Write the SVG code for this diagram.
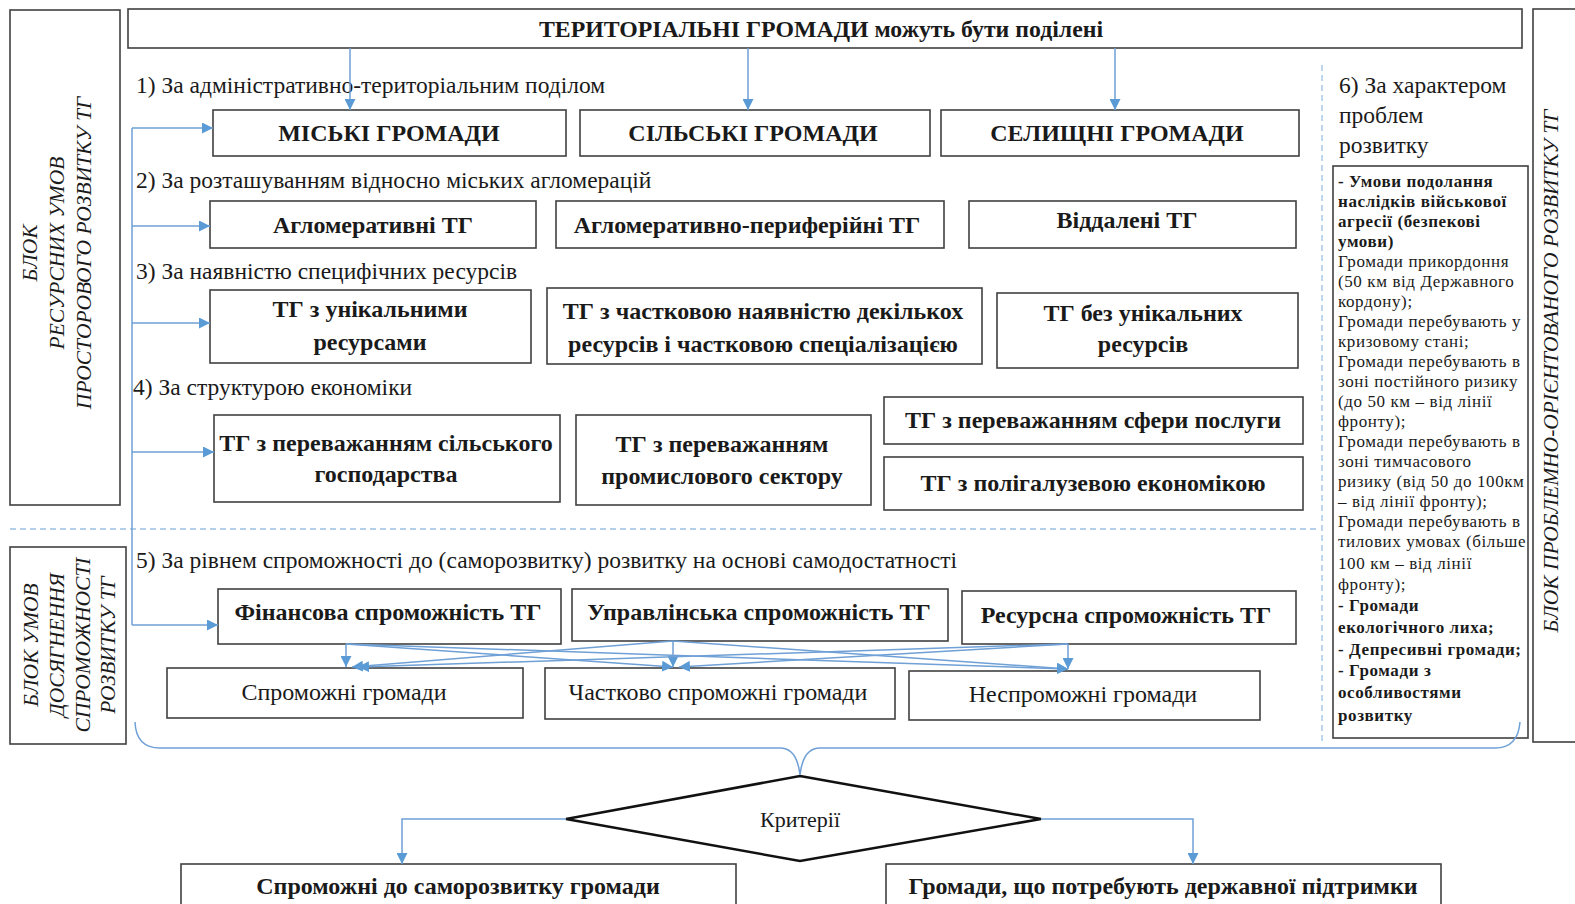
<svg xmlns="http://www.w3.org/2000/svg" width="1575" height="904" viewBox="0 0 1575 904">
<defs>
<style>
.box{fill:#fff;stroke:#404040;stroke-width:1.6}
.t{font-family:"Liberation Serif","Times New Roman",serif;fill:#1a1a1a}
.b{font-weight:bold}
.c{text-anchor:middle}
.lab{font-size:23.5px}
.nb{font-size:24px;font-weight:bold;text-anchor:middle}
.nr{font-size:24px;text-anchor:middle}
.side{font-size:21.5px;font-style:italic;text-anchor:middle}
.lst{font-size:17px;letter-spacing:0.6px}
.con{fill:none;stroke:#6fa0d6;stroke-width:1.5}
.dash{fill:none;stroke:#9cc0e4;stroke-width:1.3;stroke-dasharray:6 4}
</style>
<marker id="ar" viewBox="0 0 10 10" refX="10" refY="5" markerWidth="11" markerHeight="11" markerUnits="userSpaceOnUse" orient="auto">
<path d="M0,0 L10,5 L0,10 z" fill="#5b9bd5"/>
</marker>
</defs>
<rect width="1575" height="904" fill="#fff"/>

<g id="separators">
<line class="dash" x1="10" y1="529" x2="1316" y2="529"/>
<line class="dash" x1="1322" y1="65" x2="1322" y2="742"/>
</g>

<g id="block-left-1">
<rect class="box" x="10" y="10" width="110" height="495"/>
<text class="t side" transform="translate(30,253) rotate(-90)" dominant-baseline="central">БЛОК</text>
<text class="t side" transform="translate(57,253) rotate(-90)" dominant-baseline="central">РЕСУРСНИХ УМОВ</text>
<text class="t side" transform="translate(84,253) rotate(-90)" dominant-baseline="central">ПРОСТОРОВОГО РОЗВИТКУ ТГ</text>
</g>
<g id="block-left-2">
<rect class="box" x="10" y="547" width="116" height="197"/>
<text class="t side" transform="translate(31,645) rotate(-90)" dominant-baseline="central" font-size="22">БЛОК УМОВ</text>
<text class="t side" transform="translate(57,645) rotate(-90)" dominant-baseline="central" font-size="22">ДОСЯГНЕННЯ</text>
<text class="t side" transform="translate(83,645) rotate(-90)" dominant-baseline="central" font-size="22">СПРОМОЖНОСТІ</text>
<text class="t side" transform="translate(108,645) rotate(-90)" dominant-baseline="central" font-size="22">РОЗВИТКУ ТГ</text>
</g>
<g id="block-right">
<rect class="box" x="1533" y="9" width="50" height="733"/>
<text class="t side" transform="translate(1551,371) rotate(-90)" dominant-baseline="central" font-size="24">БЛОК ПРОБЛЕМНО-ОРІЄНТОВАНОГО  РОЗВИТКУ ТГ</text>
</g>

<g id="top">
<rect class="box" x="128" y="9" width="1394" height="39"/>
<text class="t b c" x="821" y="37" font-size="23.8">ТЕРИТОРІАЛЬНІ ГРОМАДИ можуть бути поділені</text>
</g>

<g id="labels">
<text class="t lab" x="136" y="93">1) За адміністративно-територіальним  поділом</text>
<text class="t lab" x="136" y="188">2) За розташуванням відносно міських агломерацій</text>
<text class="t lab" x="136" y="279">3) За наявністю специфічних  ресурсів</text>
<text class="t lab" x="133" y="395">4) За структурою економіки</text>
<text class="t lab" x="136" y="568">5) За рівнем спроможності до (саморозвитку) розвитку на основі самодостатності</text>
<text class="t lab" x="1339" y="93">6) За характером</text>
<text class="t lab" x="1339" y="123">проблем</text>
<text class="t lab" x="1339" y="153">розвитку</text>
</g>

<g id="n-miski"><rect class="box" x="213" y="110" width="353" height="46"/><text class="t nb" x="389" y="141">МІСЬКІ ГРОМАДИ</text></g>
<g id="n-silski"><rect class="box" x="580" y="110" width="350" height="46"/><text class="t nb" x="753" y="141">СІЛЬСЬКІ ГРОМАДИ</text></g>
<g id="n-selyshchni"><rect class="box" x="941" y="110" width="358" height="46"/><text class="t nb" x="1117" y="141">СЕЛИЩНІ ГРОМАДИ</text></g>

<g id="n-aglo"><rect class="box" x="210" y="201" width="326" height="47"/><text class="t nb" x="373" y="233">Агломеративні ТГ</text></g>
<g id="n-aglo-per"><rect class="box" x="556" y="201" width="388" height="47"/><text class="t nb" x="747" y="233">Агломеративно-периферійні ТГ</text></g>
<g id="n-viddal"><rect class="box" x="969" y="201" width="327" height="47"/><text class="t nb" x="1127" y="228">Віддалені ТГ</text></g>

<g id="n-unik"><rect class="box" x="210" y="290" width="321" height="73"/><text class="t nb" x="370" y="317">ТГ з унікальними</text><text class="t nb" x="370" y="350">ресурсами</text></g>
<g id="n-chast"><rect class="box" x="547" y="288" width="435" height="76"/><text class="t nb" x="763" y="319">ТГ з частковою наявністю декількох</text><text class="t nb" x="763" y="352">ресурсів і частковою спеціалізацією</text></g>
<g id="n-bez"><rect class="box" x="997" y="293" width="301" height="75"/><text class="t nb" x="1143" y="321">ТГ без унікальних</text><text class="t nb" x="1143" y="352">ресурсів</text></g>

<g id="n-silgosp"><rect class="box" x="214" y="415" width="346" height="87"/><text class="t nb" x="386" y="451">ТГ з переважанням сільського</text><text class="t nb" x="386" y="482">господарства</text></g>
<g id="n-prom"><rect class="box" x="576" y="415" width="295" height="90"/><text class="t nb" x="722" y="452">ТГ з переважанням</text><text class="t nb" x="722" y="484">промислового сектору</text></g>
<g id="n-posl"><rect class="box" x="884" y="397" width="419" height="47"/><text class="t nb" x="1093" y="428">ТГ з переважанням сфери послуги</text></g>
<g id="n-poligal"><rect class="box" x="884" y="457" width="419" height="53"/><text class="t nb" x="1093" y="491">ТГ з полігалузевою економікою</text></g>

<g id="n-fin"><rect class="box" x="218" y="589" width="343" height="55"/><text class="t nb" x="388" y="620">Фінансова спроможність ТГ</text></g>
<g id="n-upr"><rect class="box" x="572" y="589" width="376" height="52"/><text class="t nb" x="759" y="620">Управлінська спроможність ТГ</text></g>
<g id="n-res"><rect class="box" x="962" y="591" width="334" height="53"/><text class="t nb" x="1126" y="623">Ресурсна спроможність ТГ</text></g>

<g id="n-spro"><rect class="box" x="167" y="668" width="356" height="50"/><text class="t nr" x="344" y="700">Спроможні громади</text></g>
<g id="n-chspro"><rect class="box" x="545" y="668" width="350" height="51"/><text class="t nr" x="718" y="700">Частково спроможні громади</text></g>
<g id="n-nespro"><rect class="box" x="909" y="671" width="351" height="49"/><text class="t nr" x="1083" y="702">Неспроможні громади</text></g>

<g id="n-problems">
<rect class="box" x="1333" y="166" width="195" height="572"/>
<text class="t lst" x="1338">
<tspan class="b" x="1338" y="187">- Умови подолання</tspan>
<tspan class="b" x="1338" y="207">наслідків військової</tspan>
<tspan class="b" x="1338" y="227">агресії (безпекові</tspan>
<tspan class="b" x="1338" y="247">умови)</tspan>
<tspan x="1338" y="267">Громади прикордоння</tspan>
<tspan x="1338" y="287">(50 км від Державного</tspan>
<tspan x="1338" y="307">кордону);</tspan>
<tspan x="1338" y="327">Громади перебувають у</tspan>
<tspan x="1338" y="347">кризовому стані;</tspan>
<tspan x="1338" y="367">Громади перебувають в</tspan>
<tspan x="1338" y="387">зоні постійного ризику</tspan>
<tspan x="1338" y="407">(до 50 км – від лінії</tspan>
<tspan x="1338" y="427">фронту);</tspan>
<tspan x="1338" y="447">Громади перебувають в</tspan>
<tspan x="1338" y="467">зоні тимчасового</tspan>
<tspan x="1338" y="487">ризику (від 50 до 100км</tspan>
<tspan x="1338" y="507">– від лінії фронту);</tspan>
<tspan x="1338" y="527">Громади перебувають в</tspan>
<tspan x="1338" y="547">тилових умовах (більше</tspan>
<tspan x="1338" y="569">100 км – від лінії</tspan>
<tspan x="1338" y="590">фронту);</tspan>
<tspan class="b" x="1338" y="611">- Громади</tspan>
<tspan class="b" x="1338" y="633">екологічного лиха;</tspan>
<tspan class="b" x="1338" y="655">- Депресивні громади;</tspan>
<tspan class="b" x="1338" y="676">- Громади з</tspan>
<tspan class="b" x="1338" y="698">особливостями</tspan>
<tspan class="b" x="1338" y="721">розвитку</tspan>
</text>
</g>

<g id="n-criteria">
<polygon points="800,776 1041,819 800,861 566,819" fill="#fff" stroke="#111" stroke-width="2.5"/>
<text class="t c" x="800" y="827" font-size="22">Критерії</text>
</g>
<g id="n-self">
<rect class="box" x="181" y="864" width="555" height="50"/>
<text class="t nb" x="458" y="894">Спроможні до саморозвитку громади</text>
</g>
<g id="n-state">
<rect class="box" x="886" y="864" width="555" height="50"/>
<text class="t nb" x="1163" y="894">Громади, що потребують державної підтримки</text>
</g>

<g id="connectors">
<line class="con" x1="350" y1="48" x2="350" y2="110" marker-end="url(#ar)"/>
<line class="con" x1="748" y1="48" x2="748" y2="110" marker-end="url(#ar)"/>
<line class="con" x1="1115" y1="48" x2="1115" y2="110" marker-end="url(#ar)"/>
<path class="con" d="M132,128 V625"/>
<line class="con" x1="132" y1="128" x2="213" y2="128" marker-end="url(#ar)"/>
<line class="con" x1="132" y1="226" x2="210" y2="226" marker-end="url(#ar)"/>
<line class="con" x1="132" y1="323" x2="210" y2="323" marker-end="url(#ar)"/>
<line class="con" x1="132" y1="452" x2="214" y2="452" marker-end="url(#ar)"/>
<line class="con" x1="132" y1="625" x2="218" y2="625" marker-end="url(#ar)"/>
<line class="con" x1="346" y1="644" x2="346" y2="667" marker-end="url(#ar)"/>
<line class="con" x1="346" y1="644" x2="673" y2="667" marker-end="url(#ar)"/>
<line class="con" x1="346" y1="644" x2="1068" y2="669" marker-end="url(#ar)"/>
<line class="con" x1="673" y1="641" x2="352" y2="667" marker-end="url(#ar)"/>
<line class="con" x1="673" y1="641" x2="673" y2="667" marker-end="url(#ar)"/>
<line class="con" x1="673" y1="641" x2="1068" y2="669" marker-end="url(#ar)"/>
<line class="con" x1="1068" y1="644" x2="358" y2="667" marker-end="url(#ar)"/>
<line class="con" x1="1068" y1="644" x2="679" y2="667" marker-end="url(#ar)"/>
<line class="con" x1="1068" y1="644" x2="1068" y2="669" marker-end="url(#ar)"/>
<path class="con" d="M135,722 Q136,748 160,748 H780 Q797,748 800,775 Q803,748 820,748 H1495 Q1518,748 1520,722"/>
<path class="con" d="M566,819 H402 V864" marker-end="url(#ar)"/>
<path class="con" d="M1041,819 H1193 V864" marker-end="url(#ar)"/>
</g>
</svg>
